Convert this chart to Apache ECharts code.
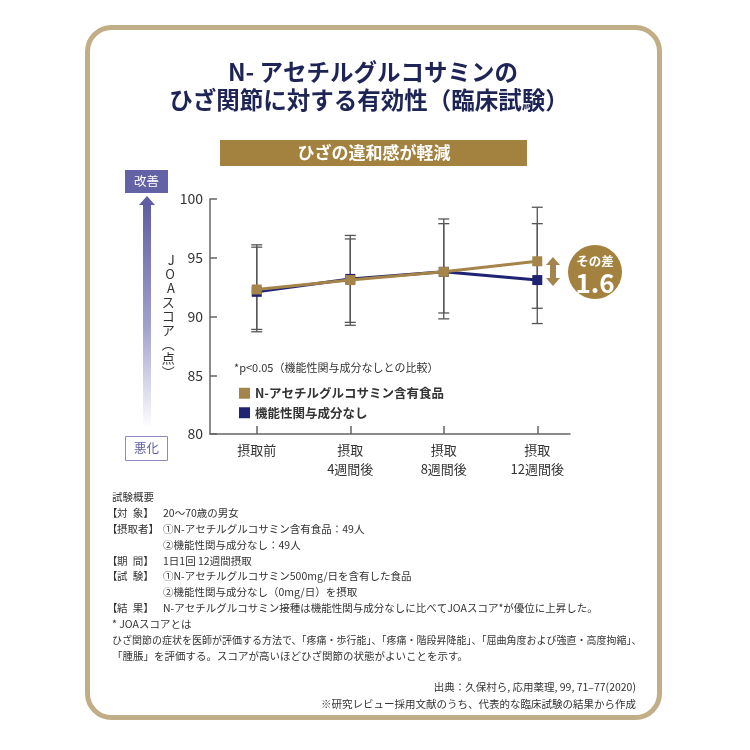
<!DOCTYPE html>
<html>
<head>
<meta charset="utf-8">
<script src="https://cdn.jsdelivr.net/npm/echarts@6/dist/echarts.min.js"></script>
<style>
  html, body { margin: 0; padding: 0; background: #fff; }
  #chart { width: 750px; height: 750px; }
</style>
</head>
<body>
<div id="chart"></div>
<script>
// Data
const categories = ['摂取前', '摂取\n4週間後', '摂取\n8週間後', '摂取\n12週間後'];
const goldMean = [92.3, 93.1, 93.8, 94.7];
const navyMean = [92.1, 93.2, 93.8, 93.1];
const goldHigh = [96.1, 96.9, 98.3, 99.3];
const goldLow = [88.9, 89.5, 89.8, 90.7];
const navyHigh = [95.9, 96.6, 97.9, 97.9];
const navyLow = [88.7, 89.25, 90.3, 89.4];
const yTicks = [80, 85, 90, 95, 100];

const seriesGold = 'N-アセチルグルコサミン含有食品';
const seriesNavy = '機能性関与成分なし';

const GOLD = '#a5844a';
const NAVY = '#1f2372';
const FONT = '"Noto Sans CJK JP", "Noto Sans", sans-serif';

const chartDom = document.getElementById('chart');
const chart = echarts.init(chartDom);

const idx = categories.map((c, i) => i);
const errData = idx.map(i => [i, goldHigh[i], goldLow[i]])
    .concat(idx.map(i => [i, navyHigh[i], navyLow[i]]));

function renderErr(params, api) {
    const x = api.value(0);
    const top = api.coord([x, api.value(1)]);
    const bot = api.coord([x, api.value(2)]);
    const w = 5.5;
    const style = { stroke: '#555', lineWidth: 1.3 };
    return {
        type: 'group',
        children: [
            { type: 'line', shape: { x1: top[0], y1: top[1], x2: bot[0], y2: bot[1] }, style },
            { type: 'line', shape: { x1: top[0] - w, y1: top[1], x2: top[0] + w, y2: top[1] }, style },
            { type: 'line', shape: { x1: bot[0] - w, y1: bot[1], x2: bot[0] + w, y2: bot[1] }, style }
        ]
    };
}

const diff = (goldMean[3] - navyMean[3]).toFixed(1);

// footnote rows (label inner text, content)
const noteLabels = ['対\u2002象', '摂取者', '', '期\u2002間', '試\u2002験', '', '結\u2002果'];
const noteTexts = ['20〜70歳の男女', '①N-アセチルグルコサミン含有食品：49人', '②機能性関与成分なし：49人',
    '1日1回 12週間摂取', '①N-アセチルグルコサミン500mg/日を含有した食品', '②機能性関与成分なし（0mg/日）を摂取',
    'N-アセチルグルコサミン接種は機能性関与成分なしに比べてJOAスコア*が優位に上昇した。'];
const noteTail = ['* JOAスコアとは',
    'ひざ関節の症状を医師が評価する方法で、「疼痛・歩行能」、「疼痛・階段昇降能」、「屈曲角度および強直・高度拘縮」、',
    '「腫脹」を評価する。スコアが高いほどひざ関節の状態がよいことを示す。'];

const noteTop = 497;
const step = 15.9;
const noteFont = '10.5px ' + FONT;
const graphics = [];

const measureCtx = document.createElement('canvas').getContext('2d');
function textWidth(text, font) {
    measureCtx.font = font;
    return measureCtx.measureText(text).width;
}

function txt(x, y, text, font, fill, align) {
    return { type: 'text', x, y, style: { text, font, fill, align: align || 'left', verticalAlign: 'middle' } };
}

// frame
graphics.push({
    type: 'rect', shape: { x: 87.5, y: 27.5, width: 572, height: 690, r: 24 },
    style: { fill: '#fff', stroke: '#c2ae86', lineWidth: 5 }, z: -10
});

// title
graphics.push(txt(373, 72, 'N- アセチルグルコサミンの', 'bold 23.5px ' + FONT, '#1f2456', 'center'));
graphics.push(txt(369, 100, 'ひざ関節に対する有効性（臨床試験）', 'bold 23.5px ' + FONT, '#1f2456', 'center'));

// banner
graphics.push({ type: 'rect', shape: { x: 220, y: 140, width: 307, height: 26 }, style: { fill: '#a3823f' } });
graphics.push(txt(374, 153, 'ひざの違和感が軽減', 'bold 17px ' + FONT, '#fff', 'center'));

// left scale arrow
graphics.push({ type: 'rect', shape: { x: 125, y: 170, width: 43, height: 23 }, style: { fill: '#6462a6' } });
graphics.push(txt(146.5, 181.5, '改善', '12.5px ' + FONT, '#fff', 'center'));
graphics.push({
    type: 'polygon', shape: { points: [[139, 205], [155, 205], [147, 196]] }, style: { fill: '#5f5da3' }
});
graphics.push({
    type: 'rect', shape: { x: 143, y: 204, width: 8, height: 224 },
    style: {
        fill: new echarts.graphic.LinearGradient(0, 0, 0, 1, [
            { offset: 0, color: '#5f5da3' },
            { offset: 0.55, color: '#a3a2cd' },
            { offset: 1, color: 'rgba(255,255,255,1)' }
        ])
    }
});
graphics.push({ type: 'rect', shape: { x: 125.5, y: 436.5, width: 42, height: 24 }, style: { fill: '#fff', stroke: '#8c8ac0', lineWidth: 1 } });
graphics.push(txt(146.5, 448.5, '悪化', '12.5px ' + FONT, '#5f5da3', 'center'));

// p-value note above legend
graphics.push(txt(234, 368, '*p<0.05（機能性関与成分なしとの比較）', '11px ' + FONT, '#333'));

// difference marker
graphics.push({
    type: 'polygon',
    shape: { points: [[553, 257], [560, 265], [556, 265], [556, 278], [560, 278], [553, 286], [546, 278], [550, 278], [550, 265], [546, 265]] },
    style: { fill: '#a3844c' }
});
graphics.push({ type: 'circle', shape: { cx: 595, cy: 272, r: 27 }, style: { fill: '#a3823f' } });
graphics.push(txt(595, 261, 'その差', 'bold 12.5px ' + FONT, '#fff', 'center'));
graphics.push(txt(595, 283, diff, 'bold 26px ' + FONT, '#fff', 'center'));

// footnote
graphics.push(txt(112, noteTop, '試験概要', noteFont, '#333'));
noteLabels.forEach((t, i) => {
    const y = noteTop + (i + 1) * step;
    if (t) {
        const w = textWidth(t, noteFont);
        graphics.push(txt(107, y, '【', noteFont, '#333'));
        graphics.push(txt(117, y, t, noteFont, '#333'));
        graphics.push(txt(117 + w, y, '】', noteFont, '#333'));
    }
});
noteTexts.forEach((t, i) => {
    graphics.push(txt(163, noteTop + (i + 1) * step, t, noteFont, '#333'));
});
noteTail.forEach((t, i) => {
    graphics.push(txt(112, noteTop + (8 + i) * step, t, (i === 1 ? '10px ' + FONT : noteFont), '#333'));
});
graphics.push(txt(636, 687, '出典：久保村ら, 応用薬理, 99, 71–77(2020)', noteFont, '#333', 'right'));
graphics.push(txt(636, 704, '※研究レビュー採用文献のうち、代表的な臨床試験の結果から作成', noteFont, '#333', 'right'));

const option = {
    backgroundColor: '#fff',
    animation: false,
    textStyle: { fontFamily: FONT },
    graphic: graphics,
    legend: {
        data: [seriesGold, seriesNavy],
        orient: 'vertical',
        left: 234,
        top: 382,
        itemWidth: 11,
        itemHeight: 11,
        itemGap: 7,
        icon: 'rect',
        textStyle: { fontSize: 12.5, fontWeight: 'bold', color: '#333', fontFamily: FONT }
    },
    grid: { left: 210, right: 180, top: 199, bottom: 316 },
    xAxis: {
        type: 'value',
        min: -0.5,
        max: 3.35,
        splitLine: { show: false },
        axisLine: { lineStyle: { color: '#666', width: 1.5 } },
        axisTick: { inside: true, length: 8, lineStyle: { color: '#666', width: 1.5 }, customValues: idx },
        axisLabel: {
            customValues: idx,
            formatter: v => categories[v] || '',
            color: '#333', fontSize: 13, lineHeight: 19, margin: 7, fontFamily: FONT
        }
    },
    yAxis: {
        type: 'value',
        min: yTicks[0],
        max: yTicks[yTicks.length - 1],
        interval: 5,
        name: 'J\nO\nA\nス\nコ\nア\n︵\n点\n︶',
        nameLocation: 'middle',
        nameRotate: 0,
        nameGap: 33,
        nameTextStyle: { fontSize: 13, lineHeight: 14, color: '#333', fontFamily: FONT },
        splitLine: { show: false },
        axisLine: { show: true, onZero: false, lineStyle: { color: '#666', width: 1.5 } },
        axisTick: { show: true, inside: true, length: 7, lineStyle: { color: '#666', width: 1.5 } },
        axisLabel: { color: '#333', fontSize: 14, margin: 7, fontFamily: FONT }
    },
    series: [
        {
            type: 'custom',
            renderItem: renderErr,
            data: errData,
            z: 1,
            silent: true
        },
        {
            name: seriesNavy,
            type: 'line',
            data: idx.map(i => [i, navyMean[i]]),
            symbol: 'rect',
            symbolSize: 10,
            lineStyle: { color: NAVY, width: 3 },
            itemStyle: { color: NAVY },
            z: 2
        },
        {
            name: seriesGold,
            type: 'line',
            data: idx.map(i => [i, goldMean[i]]),
            symbol: 'rect',
            symbolSize: 10,
            lineStyle: { color: GOLD, width: 3 },
            itemStyle: { color: GOLD },
            z: 3
        }
    ]
};

chart.setOption(option);
</script>
</body>
</html>
